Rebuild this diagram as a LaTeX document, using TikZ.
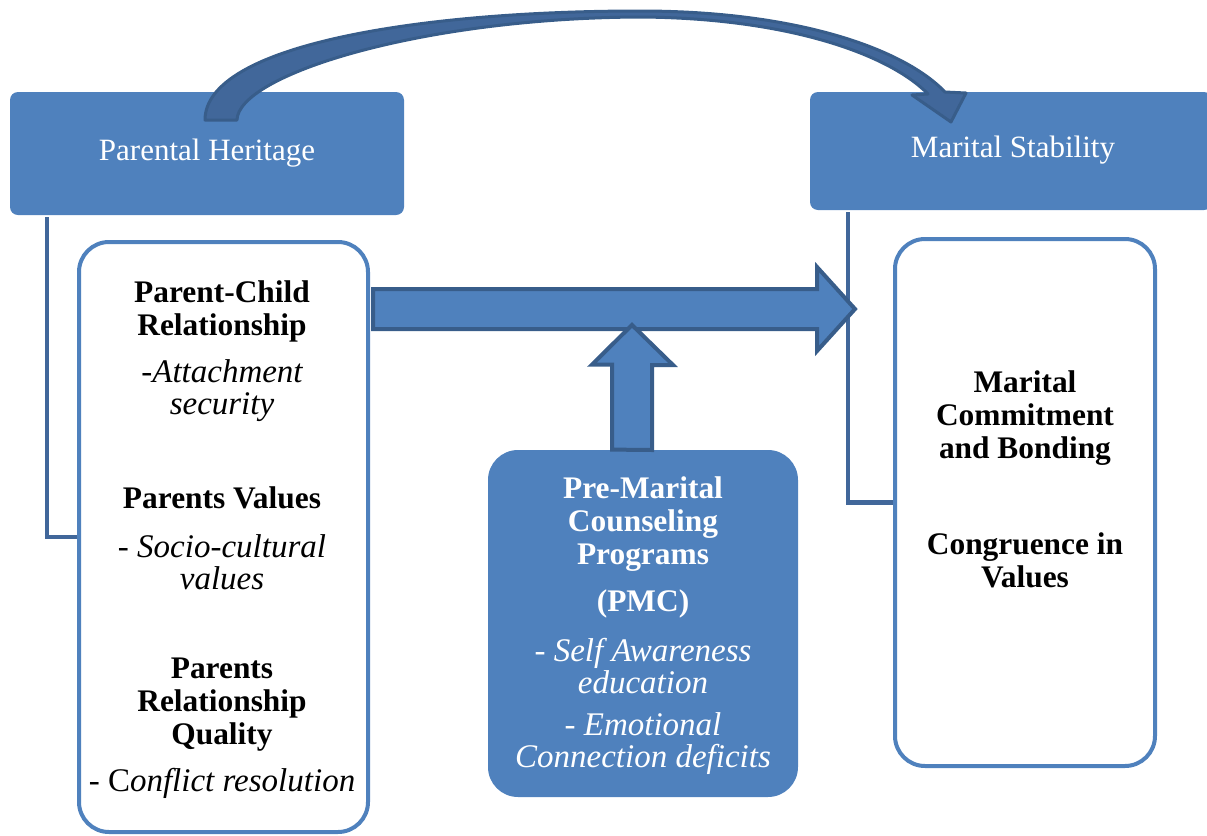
\documentclass[tikz,border=0pt]{standalone}
\usepackage{fontspec}
\setmainfont{Liberation Serif}
\usetikzlibrary{calc}

\definecolor{boxblue}{HTML}{4F81BD}
\definecolor{edgeblue}{HTML}{385D8A}
\definecolor{linkblue}{HTML}{41679A}

\begin{document}
\begin{tikzpicture}[x=0.5pt,y=-0.5pt,
  bluebox/.style={rectangle,fill=boxblue,text=white,inner sep=0pt},
  whitebox/.style={rectangle,draw=boxblue,line width=2pt,fill=white,rounded corners=15pt,inner sep=0pt},
  titletxt/.style={inner sep=0pt,text=white,font=\fontsize{15.5}{18}\selectfont},
  headtxt/.style={align=center,inner sep=0pt,font=\fontsize{15.7}{16.5}\selectfont\bfseries},
  subtxt/.style={align=center,inner sep=0pt,font=\fontsize{16.5}{16}\selectfont\itshape},
  link/.style={draw=linkblue,line width=2.2pt},
  blockarrow/.style={fill=boxblue,draw=edgeblue,line width=2pt,line join=miter}]
  \useasboundingbox (0,0) rectangle (1207,836);

  % top boxes
  \node[bluebox,rounded corners=4pt,minimum width=197pt,minimum height=61.5pt] (heritage) at (207,153.5) {};
  \node[titletxt] (heritagetxt) at (207,153) {Parental Heritage};
  \node[bluebox,rounded corners=4pt,minimum width=201pt,minimum height=59pt] (stability) at (1011,151) {};
  \node[titletxt] (stabilitytxt) at (1013,150) {Marital Stability};

  % content boxes
  \node[whitebox,minimum width=144.5pt,minimum height=295pt] (parentbox) at (223.5,537) {};
  \node[whitebox,minimum width=130pt,minimum height=263.5pt] (maritalbox) at (1025,502.5) {};
  \node[bluebox,rounded corners=15pt,minimum width=155pt,minimum height=173.5pt] (pmcbox) at (643,623.5) {};

  % parental heritage texts
  \node[headtxt] (pcr) at (222,311) {Parent-Child\\Relationship};
  \node[subtxt] (attach) at (222,391) {-Attachment\\security};
  \node[headtxt] (pvalues) at (222,498) {Parents Values};
  \node[subtxt] (socio) at (222,562) {- Socio-cultural\\values};
  \node[headtxt] (prq) at (222,705) {Parents\\Relationship\\Quality};
  \node[subtxt] (conflict) at (222,783) {\upshape- C\itshape onflict resolution};

  % marital stability texts
  \node[headtxt] (commit) at (1025,418) {Marital\\Commitment\\and Bonding};
  \node[headtxt] (congru) at (1025,560) {Congruence in\\Values};

  % counseling texts
  \node[headtxt,text=white] (pmctitle) at (643,524) {Pre-Marital\\Counseling\\Programs};
  \node[headtxt,text=white] (pmcabbr) at (643,604) {(PMC)};
  \node[subtxt,text=white] (selfaw) at (643,666) {- Self Awareness\\education};
  \node[subtxt,text=white] (emoconn) at (643,744) {- Emotional\\Connection deficits};

  % links
  \coordinate (leftrail) at (47,0);
  \coordinate (rightrail) at (848,0);
  \draw[link] ([yshift=-1pt]heritage.south -| leftrail) |- (parentbox.west);
  \draw[link] ([yshift=-1pt]stability.south -| rightrail) |- (maritalbox.west);

  % block arrows
  \coordinate (flowtip) at (855,309);
  \coordinate (flowtail) at ([xshift=1.5pt]parentbox.east |- flowtip);
  \draw[blockarrow] (flowtail) ++(0,-20) -- ++(444,0) -- ++(0,-22) -- (flowtip)
    -- ++(-38,42) -- ++(0,-22) -- ++(-444,0) -- cycle;
  \coordinate (uptip) at (632,325);
  \coordinate (uptail) at (pmcbox.north -| uptip);
  \draw[blockarrow] (uptail) ++(-20,0) -- ++(0,-85) -- ++(-20,0) -- (uptip)
    -- ++(41,40) -- ++(-21,0) -- ++(0,85) -- cycle;

  % curved arrow
  \draw[fill=linkblue,draw=edgeblue,line width=1.5pt,line join=round]
    (205,120) .. controls (205,45) and (420,11) .. (640,11)
    .. controls (800,11) and (905,50) .. (945,92) -- (966,93) -- (951,122) -- (912,95) -- (928,94)
    .. controls (890,55) and (790,18) .. (640,17)
    .. controls (420,18) and (238,75) .. (237,120) -- cycle;
\end{tikzpicture}
\end{document}
